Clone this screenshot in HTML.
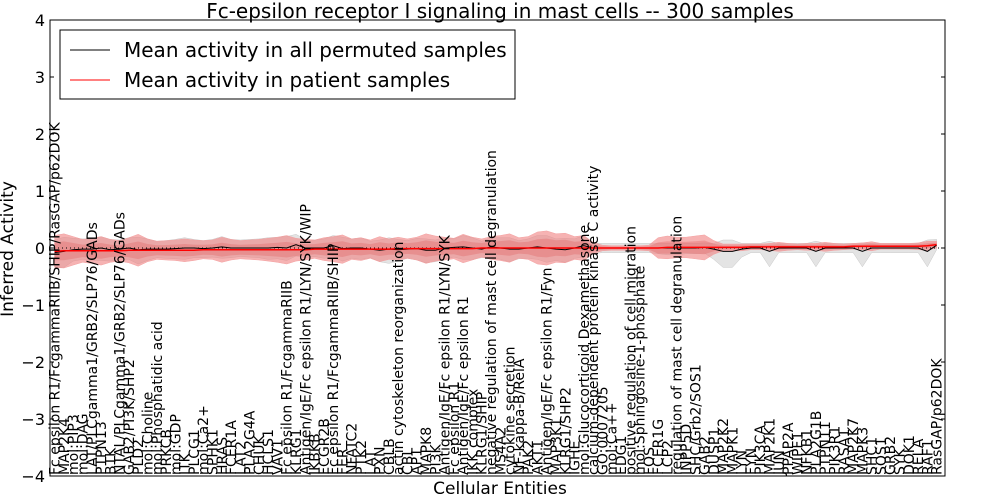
<!DOCTYPE html>
<html><head><meta charset="utf-8"><style>
html,body{margin:0;padding:0;background:#fff;}
svg{display:block;font-family:"DejaVu Sans","Liberation Sans",sans-serif;}
</style></head><body>
<svg id="chart" width="1000" height="500" xmlns="http://www.w3.org/2000/svg">
<rect x="0" y="0" width="1000" height="500" fill="#fff"/>
<text x="500" y="18" font-size="20" text-anchor="middle">Fc-epsilon receptor I signaling in mast cells -- 300 samples</text>
<g id="plot"></g>
<rect x="50" y="20" width="895" height="456" fill="none" stroke="#000" stroke-width="1"/>
<text x="500" y="494" font-size="17" text-anchor="middle">Cellular Entities</text>
<text transform="translate(13,249) rotate(-90)" font-size="17" text-anchor="middle">Inferred Activity</text>
<g>
<rect x="60" y="30" width="455" height="69" fill="#fff" stroke="#000" stroke-width="1"/>
<line x1="70" y1="50" x2="110" y2="50" stroke="#000" stroke-width="1"/>
<text x="124" y="57" font-size="20">Mean activity in all permuted samples</text>
<line x1="70" y1="80" x2="110" y2="80" stroke="#f00" stroke-width="1"/>
<text x="124" y="87" font-size="20">Mean activity in patient samples</text>
</g>
</svg>
<script>
const entities=["Fc epsilon R1/FcgammaRIIB/SHIP/RasGAP/p62DOK","MAP2K4","mol:PIP3","mol:DAG","LAT/PLCgamma1/GRB2/SLP76/GADs","PTPN13","BTK","NTAL/PLCgamma1/GRB2/SLP76/GADs","GAB2/PI3K/SHP2","PLD2",
"mol:Choline","mol:Phosphatidic acid","PRKCB","mol:GDP","ITK","PLCG1","mol:Ca2+","SPHK1","HRAS","FCER1A",
"LAT2","PLA2G4A","CHUK","HCLS1","VAV1","Fc epsilon R1/FcgammaRIIB","KLRG1","Antigen/IgE/Fc epsilon R1/LYN/SYK/WIP","IKBKB","FCGR2B",
"Fc epsilon R1/FcgammaRIIB/SHIP","FER","NFATC2","PTK2","LAT","PXN","CBLB","actin cytoskeleton reorganization","CBL","AP1",
"MAPK8","PI3K","Antigen/IgE/Fc epsilon R1/LYN/SYK","Fc epsilon R1","Antigen/IgE/Fc epsilon R1","IKK complex","KLRG1/SHIP","negative regulation of mast cell degranulation","MS4A2","cytokine secretion",
"NF-kappa-B/RelA","PAK2","AKT1","Antigen/IgE/Fc epsilon R1/Fyn","MAP3K1","KLRG1/SHP2","IGHE","mol:Glucocorticoid Dexamethasone","calcium-dependent protein kinase C activity","GO:0007205",
"mol:Ca++","EDG1","positive regulation of cell migration","mol:Sphingosine-1-phosphate","FOS","FCER1G","LCP2","regulation of mast cell degranulation","INPP5D","SHC/Grb2/SOS1",
"GAB2","DUSP1","MAP2K2","MAPK1","LYN","FYN","PIK3CA","MAP2K1","JUN","PPAP2A",
"WIPF1","NFKB1","PLA2G1B","PTPN11","PIK3R1","RASA1","MAP2K7","MAPK3","SHC1","SOS1",
"GRB2","SYK","DOK1","RELA","RAF1","RasGAP/p62DOK"];
const permutedMean=[-.08,-.06,-.03,-.02,-.02,0,-.03,-.02,0,-.03,
-.02,-.02,-.02,-.01,0,0,-.01,0,.02,0,
0,0,0,0,.01,0,.06,0,0,0,
.04,-.01,0,0,-.02,-.04,-.02,-.03,-.02,-.01,
-.04,-.04,0,.01,.02,0,-.02,.02,0,-.02,
-.02,0,.02,0,-.02,-.03,0,.04,0,0,
0,0,0,0,0,0,0,0,0,0,
.01,-.02,-.06,-.06,-.02,0,0,-.06,0,0,
0,0,-.06,0,0,0,0,-.06,0,0,
0,0,0,0,-.06,.05];
const patientMean=[-.06,-.05,-.05,-.05,-.05,-.05,-.05,-.05,-.04,-.04,
-.04,-.04,-.04,-.04,-.04,-.04,-.03,-.03,-.03,-.03,
-.03,-.03,-.03,-.03,-.03,-.03,-.03,-.03,-.02,-.02,
-.02,-.02,-.02,-.02,-.02,-.02,-.02,-.01,-.01,-.01,
-.01,-.01,-.01,-.01,-.01,-.01,0,0,0,0,
0,0,0,0,0,0,0,0,0,0,
0,0,0,0,0,0,.01,.01,.01,.01,
.01,.01,.01,.01,.01,.02,.02,.02,.02,.02,
.02,.02,.02,.02,.02,.02,.03,.03,.03,.03,
.03,.03,.03,.03,.04,.06];
const patientSpread=[.28,.30,.25,.20,.22,.25,.20,.18,.22,.28,
.20,.16,.17,.18,.20,.18,.16,.17,.22,.18,
.16,.17,.18,.20,.22,.25,.20,.18,.16,.20,
.22,.25,.18,.20,.16,.22,.18,.20,.17,.20,
.26,.22,.20,.18,.25,.20,.16,.20,.22,.25,
.18,.20,.28,.30,.25,.26,.20,.22,.10,.05,
.04,.04,.04,.04,.05,.18,.20,.18,.18,.20,
.22,.12,.06,.06,.06,.05,.05,.06,.08,.06,
.05,.06,.06,.08,.06,.05,.05,.06,.08,.05,
.05,.05,.05,.06,.08,.06];
const permutedLow=[.25,.28,.2,.18,.2,.22,.2,.18,.2,.25,
.2,.15,.16,.18,.2,.17,.16,.16,.2,.17,
.15,.16,.17,.2,.2,.22,.2,.17,.15,.18,
.2,.22,.18,.2,.15,.2,.25,.2,.16,.2,
.22,.2,.2,.17,.22,.2,.15,.18,.2,.22,
.17,.18,.22,.25,.2,.22,.18,.2,.1,.08,
.08,.08,.08,.08,.08,.1,.12,.12,.1,.1,
.1,.18,.28,.28,.14,.08,.08,.27,.08,.08,
.08,.08,.27,.08,.08,.08,.08,.27,.08,.08,
.08,.08,.08,.08,.27,.08];
const permutedHigh=[.22,.25,.2,.18,.18,.2,.18,.16,.18,.22,
.18,.14,.15,.16,.18,.15,.14,.15,.18,.15,
.14,.15,.16,.18,.18,.2,.18,.15,.14,.16,
.18,.2,.16,.18,.14,.18,.2,.18,.15,.18,
.2,.18,.18,.15,.2,.18,.14,.16,.18,.2,
.15,.16,.2,.22,.18,.2,.16,.18,.09,.08,
.08,.08,.08,.08,.08,.08,.08,.08,.08,.08,
.08,.1,.2,.2,.1,.08,.08,.18,.08,.08,
.08,.08,.18,.08,.08,.08,.08,.15,.08,.08,
.08,.08,.08,.08,.2,.1];
const yTicks=[-4,-3,-2,-1,0,1,2,3,4];

const NS="http://www.w3.org/2000/svg";
const plot=document.getElementById('plot');
const X0=50,X1=945,Y0=20,Y1=476;
const xMin=-0.5,xMax=95.9,yMin=-4,yMax=4;
function xs(i){return X0+(i-xMin)/(xMax-xMin)*(X1-X0);}
function ys(v){return Y1-(v-yMin)/(yMax-yMin)*(Y1-Y0);}
function mk(tag,attrs){const e=document.createElementNS(NS,tag);for(const k in attrs)e.setAttribute(k,attrs[k]);return e;}
function bandPath(center,lo,hi,scale){
  let up=[],dn=[];
  for(let i=0;i<entities.length;i++){up.push(xs(i).toFixed(1)+","+ys(center[i]+hi[i]*scale).toFixed(1));dn.push(xs(i).toFixed(1)+","+ys(center[i]-lo[i]*scale).toFixed(1));}
  return "M"+up.join("L")+"L"+dn.reverse().join("L")+"Z";
}
let g1=mk('path',{d:bandPath(permutedMean,permutedLow,permutedHigh,1),fill:'#d8d8d8','fill-opacity':'0.7',stroke:'#c8c8c8','stroke-width':'0.5'});


plot.appendChild(g1);
let r1=mk('path',{d:bandPath(patientMean,patientSpread,patientSpread,1),fill:'#f08080','fill-opacity':'0.6',stroke:'#f4a0a0','stroke-width':'0.5'});


plot.appendChild(r1);
let r2=mk('path',{d:bandPath(patientMean,patientSpread,patientSpread,0.55),fill:'#e06060','fill-opacity':'0.35',stroke:'none'});


plot.appendChild(r2);
let z=mk('line',{x1:X0,x2:X1,y1:ys(0),y2:ys(0),stroke:'#000','stroke-width':'1','stroke-dasharray':'1,3'});


plot.appendChild(z);
function linePath(arr){return arr.map((v,i)=>(i?"L":"M")+xs(i).toFixed(1)+","+ys(v).toFixed(1)).join("");}
let bl=mk('path',{d:linePath(permutedMean),fill:'none',stroke:'#000','stroke-width':'1'});


plot.appendChild(bl);
let rl=mk('path',{d:linePath(patientMean),fill:'none',stroke:'#f00','stroke-width':'1.5'});


plot.appendChild(rl);
yTicks.forEach(t=>{
  const y=ys(t);
  let a=mk('line',{x1:X0,x2:X0+4,y1:y,y2:y,stroke:'#000'});
  
  
  plot.appendChild(a);
  let b=mk('line',{x1:X1-4,x2:X1,y1:y,y2:y,stroke:'#000'});
  
  
  plot.appendChild(b);
  let tx=mk('text',{x:X0-5,y:y+6,'font-size':'16','text-anchor':'end'});
  tx.textContent=(t<0?"\u2212"+(-t):String(t));
  
  
  plot.appendChild(tx);
});
entities.forEach((n,i)=>{
  const x=xs(i)+5;
  let tx=mk('text',{transform:'translate('+x.toFixed(1)+','+(Y1-1)+') rotate(-90)','font-size':'14'});
  tx.textContent=n;
  
  
  plot.appendChild(tx);
});
</script>
</body></html>
